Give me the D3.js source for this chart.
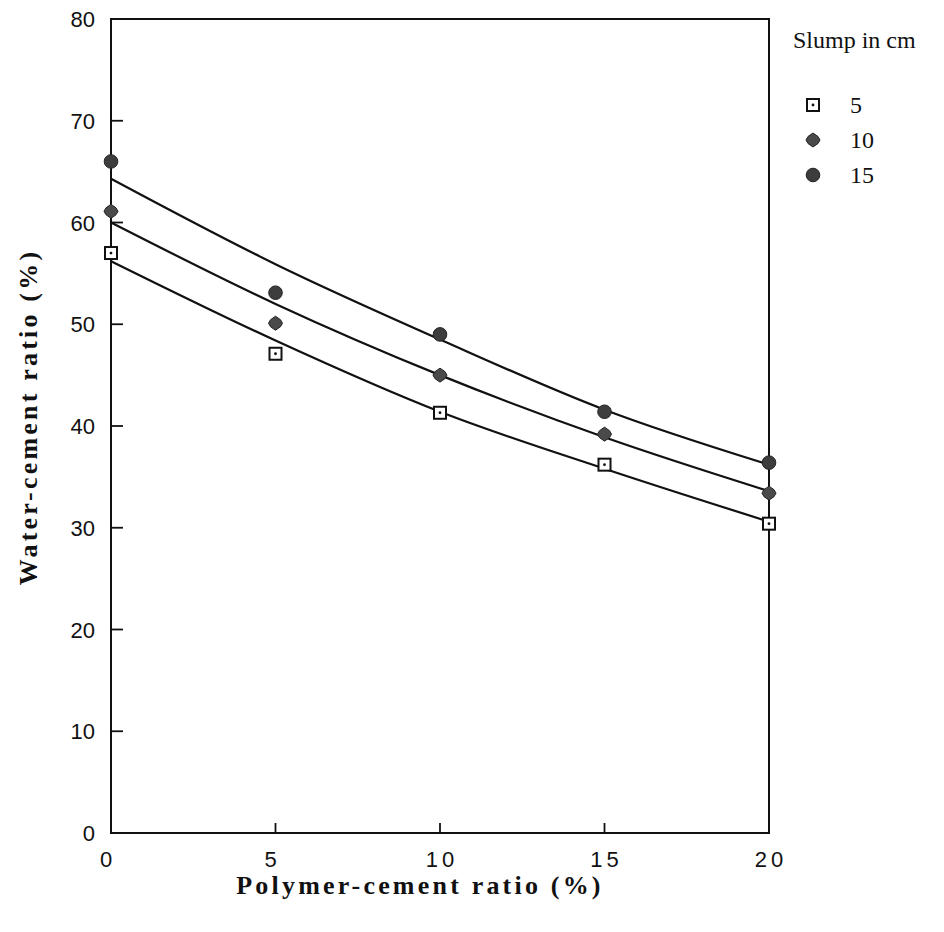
<!DOCTYPE html>
<html>
<head>
<meta charset="utf-8">
<script src="https://cdn.jsdelivr.net/npm/d3@7"></script>
<style>
    body { margin: 0; background: #fff; }
    .tick-label { font-family: "Liberation Sans", Arial, sans-serif; font-size: 22px; fill: #111; }
    .title { font-family: "Liberation Serif", "Times New Roman", serif; font-weight: bold; font-size: 26px; fill: #111; letter-spacing: 3.2px; }
    .legend { font-family: "Liberation Serif", "Times New Roman", serif; font-size: 24px; fill: #111; }
    .fit { fill: none; stroke: #111; stroke-width: 2.2; }
</style>
</head>
<body>
<div id="chart"></div>
<script>
// polymer-cement ratio (%)
var ratios = [0, 5, 10, 15, 20];

// measured water-cement ratio (%), by slump
var slump5 = [57.0, 47.1, 41.3, 36.2, 30.4];
var slump10 = [61.1, 50.1, 45.0, 39.2, 33.4];
var slump15 = [66.0, 53.1, 49.0, 41.4, 36.4];

// fitted curves at the same ratios
var fit5 = [56.2, 48.4, 41.4, 35.8, 30.6];
var fit10 = [60.0, 52.0, 45.0, 38.9, 33.6];
var fit15 = [64.3, 55.9, 48.5, 41.6, 36.2];

var xTicks = [0, 5, 10, 15, 20];
var yTicks = [0, 10, 20, 30, 40, 50, 60, 70, 80];
var legendLabels = ["5", "10", "15"];

var width = 944
    , height = 932
    , margin = {left: 111, right: 175, top: 19, bottom: 99}
    , w = width - margin.left - margin.right
    , h = height - margin.top - margin.bottom
    ;

var svg = d3.select("#chart")
    .append("svg")
    .attr("width", width)
    .attr("height", height);

var g = svg.append("g")
    .attr("transform", "translate(" + margin.left + "," + margin.top + ")");

var x = d3.scaleLinear().domain([0, 20]).range([0, w]);
var y = d3.scaleLinear().domain([0, 80]).range([h, 0]);

// frame
g.append("rect")
    .attr("width", w)
    .attr("height", h)
    .attr("fill", "none")
    .attr("stroke", "#111")
    .attr("stroke-width", 2);

// inward ticks
g.selectAll(".ytick")
    .data(yTicks.slice(1, -1))
    .enter().append("line")
    .attr("x1", 0).attr("x2", 12)
    .attr("y1", y).attr("y2", y)
    .attr("stroke", "#111").attr("stroke-width", 1.8);

g.selectAll(".xtick")
    .data(xTicks.slice(1, -1))
    .enter().append("line")
    .attr("x1", x).attr("x2", x)
    .attr("y1", h).attr("y2", h - 10)
    .attr("stroke", "#111").attr("stroke-width", 1.8);

g.selectAll(".ylabel")
    .data(yTicks)
    .enter().append("text")
    .attr("class", "tick-label")
    .attr("x", -16)
    .attr("y", function(d) { return y(d) + 8; })
    .attr("text-anchor", "end")
    .text(function(d) { return d; });

g.selectAll(".xlabel")
    .data(xTicks)
    .enter().append("text")
    .attr("class", "tick-label")
    .attr("x", function(d) { return x(d) + (d >= 10 ? 2 : -3); })
    .attr("y", h + 34)
    .attr("text-anchor", "middle")
    .style("letter-spacing", "4px")
    .text(function(d) { return d; });

// axis titles
svg.append("text")
    .attr("class", "title")
    .attr("x", 420)
    .attr("y", 894)
    .attr("text-anchor", "middle")
    .text("Polymer-cement ratio (%)");

svg.append("text")
    .attr("class", "title")
    .attr("transform", "translate(37,417) rotate(-90)")
    .attr("text-anchor", "middle")
    .text("Water-cement ratio (%)");

// fitted curves
var line = d3.line()
    .x(function(d, i) { return x(ratios[i]); })
    .y(function(d) { return y(d); })
    .curve(d3.curveMonotoneX);

[fit5, fit10, fit15].forEach(function(f) {
    g.append("path")
        .datum(f)
        .attr("class", "fit")
        .attr("d", line);
});

// markers
function square(sel) {
    sel.append("rect")
        .attr("x", -6).attr("y", -6)
        .attr("width", 12).attr("height", 12)
        .attr("fill", "#fff").attr("stroke", "#111").attr("stroke-width", 2);
    sel.append("circle")
        .attr("r", 1.4).attr("fill", "#111");
}

function diamond(sel) {
    sel.append("path")
        .attr("d", "M0,-7 L5,-3.5 L7,0 L5,3.5 L0,7 L-5,3.5 L-7,0 L-5,-3.5 Z")
        .attr("fill", "#4a4a4a").attr("stroke", "#222").attr("stroke-width", 1);
}

function dot(sel) {
    sel.append("circle")
        .attr("r", 6.8)
        .attr("fill", "#3d3d3d").attr("stroke", "#222").attr("stroke-width", 1);
}

var series = [
    {values: slump15, draw: dot},
    {values: slump10, draw: diamond},
    {values: slump5, draw: square}
];

series.forEach(function(s) {
    g.selectAll(null)
        .data(s.values)
        .enter().append("g")
        .attr("transform", function(d, i) { return "translate(" + x(ratios[i]) + "," + y(d) + ")"; })
        .call(s.draw);
});

// legend
svg.append("text")
    .attr("class", "legend")
    .attr("x", 793)
    .attr("y", 48)
    .text("Slump in cm");

var legendDraw = [square, diamond, dot];
var lg = svg.selectAll(".lg")
    .data(legendLabels)
    .enter().append("g")
    .attr("transform", function(d, i) { return "translate(813," + (105 + i * 35) + ")"; });

lg.each(function(d, i) { d3.select(this).call(legendDraw[i]); });

lg.append("text")
    .attr("class", "legend")
    .attr("x", 37)
    .attr("y", 8)
    .text(function(d) { return d; });
</script>
</body>
</html>
